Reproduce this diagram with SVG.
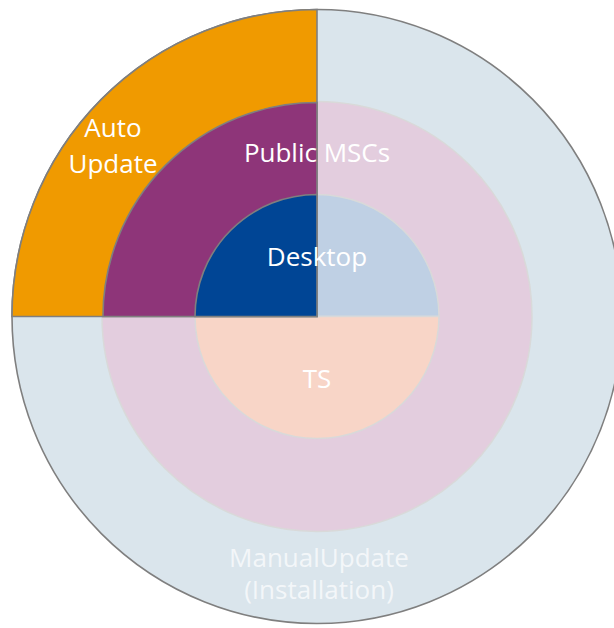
<svg xmlns="http://www.w3.org/2000/svg" width="614" height="628" viewBox="0 0 614 628">
<style>
.lbl{font-family:"Open Sans","Noto Sans","Liberation Sans",sans-serif;font-size:26px;fill:#ffffff;text-anchor:middle}
.dark{stroke:#7f7f7f;stroke-width:1.6}
.light{stroke:#d9d9d9;stroke-width:1.5}
</style>
<rect width="614" height="628" fill="#ffffff"/>
<g id="manual-update">
<ellipse cx="317" cy="316.5" rx="305" ry="307" fill="#dae5ec" class="dark"/>
</g>
<g id="public-mscs-ring">
<circle cx="317" cy="316.5" r="215" fill="#e3cdde" class="light"/>
</g>
<g id="inner-top">
<path d="M195,316.5 A122,122 0 0 1 439,316.5 Z" fill="#bfd0e4" class="light"/>
</g>
<g id="ts">
<path d="M195,316.5 A122,122 0 0 0 439,316.5 Z" fill="#f8d5c7" class="light"/>
</g>
<g id="auto-update">
<path d="M317,316.5 L12,316.5 A305,307 0 0 1 317,9.5 Z" fill="#f09a00" class="dark"/>
</g>
<g id="public-mscs">
<path d="M317,316.5 L103,316.5 A214,214 0 0 1 317,102.5 Z" fill="#8e3579" class="dark"/>
</g>
<g id="desktop">
<path d="M317,316.5 L195,316.5 A122,122 0 0 1 317,194.5 Z" fill="#004595" class="dark"/>
</g>
<g id="labels">
<text class="lbl" x="113" y="137">Auto</text>
<text class="lbl" x="113" y="173">Update</text>
<text class="lbl" x="317" y="162">Public MSCs</text>
<text class="lbl" x="317" y="266">Desktop</text>
<text class="lbl" x="317" y="388">TS</text>
<text class="lbl" x="319" y="567" fill-opacity="0.7">ManualUpdate</text>
<text class="lbl" x="319" y="599" fill-opacity="0.7">(Installation)</text>
</g>
</svg>
